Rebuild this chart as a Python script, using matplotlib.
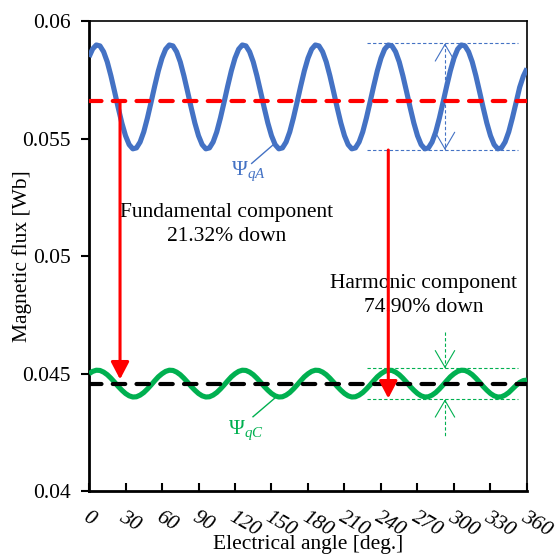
import numpy as np
import matplotlib
matplotlib.use("Agg")
import matplotlib.pyplot as plt

plt.rcParams['font.family'] = ['Liberation Serif', 'DejaVu Serif']
plt.rcParams['mathtext.fontset'] = 'custom'
plt.rcParams['mathtext.rm'] = 'Liberation Serif'
plt.rcParams['mathtext.it'] = 'Liberation Serif:italic'

# ---------------- data ----------------
angle = np.arange(0, 361, 3)  # electrical angle [deg.]

psi_qA = [
    0.05847, 0.05881, 0.05898, 0.05894, 0.05869, 0.05826, 0.05767, 0.05700, 0.05631, 0.05566,
    0.05512, 0.05474, 0.05456, 0.05460, 0.05485, 0.05528, 0.05587, 0.05654, 0.05723, 0.05788,
    0.05842, 0.05880, 0.05898, 0.05894, 0.05869, 0.05826, 0.05767, 0.05700, 0.05631, 0.05566,
    0.05512, 0.05474, 0.05456, 0.05460, 0.05485, 0.05528, 0.05587, 0.05654, 0.05723, 0.05788,
    0.05842, 0.05880, 0.05898, 0.05894, 0.05869, 0.05826, 0.05767, 0.05700, 0.05631, 0.05566,
    0.05512, 0.05474, 0.05456, 0.05460, 0.05485, 0.05528, 0.05587, 0.05654, 0.05723, 0.05788,
    0.05842, 0.05880, 0.05898, 0.05894, 0.05869, 0.05826, 0.05767, 0.05700, 0.05631, 0.05566,
    0.05512, 0.05474, 0.05456, 0.05460, 0.05485, 0.05528, 0.05587, 0.05654, 0.05723, 0.05788,
    0.05842, 0.05880, 0.05898, 0.05894, 0.05869, 0.05826, 0.05767, 0.05700, 0.05631, 0.05566,
    0.05512, 0.05474, 0.05456, 0.05460, 0.05485, 0.05528, 0.05587, 0.05654, 0.05723, 0.05788,
    0.05842, 0.05880, 0.05898, 0.05894, 0.05869, 0.05826, 0.05767, 0.05700, 0.05631, 0.05566,
    0.05512, 0.05474, 0.05456, 0.05460, 0.05485, 0.05528, 0.05587, 0.05652, 0.05718, 0.05765,
    0.05798,
]

psi_qC = [
    0.04499, 0.04509, 0.04514, 0.04513, 0.04506, 0.04495, 0.04480, 0.04463, 0.04445, 0.04429,
    0.04415, 0.04405, 0.04400, 0.04401, 0.04408, 0.04419, 0.04434, 0.04451, 0.04469, 0.04486,
    0.04499, 0.04509, 0.04514, 0.04513, 0.04506, 0.04495, 0.04480, 0.04463, 0.04445, 0.04429,
    0.04415, 0.04405, 0.04400, 0.04401, 0.04408, 0.04419, 0.04434, 0.04451, 0.04469, 0.04486,
    0.04499, 0.04509, 0.04514, 0.04513, 0.04506, 0.04495, 0.04480, 0.04463, 0.04445, 0.04429,
    0.04415, 0.04405, 0.04400, 0.04401, 0.04408, 0.04419, 0.04434, 0.04451, 0.04469, 0.04486,
    0.04499, 0.04509, 0.04514, 0.04513, 0.04506, 0.04495, 0.04480, 0.04463, 0.04445, 0.04429,
    0.04415, 0.04405, 0.04400, 0.04401, 0.04408, 0.04419, 0.04434, 0.04451, 0.04469, 0.04486,
    0.04499, 0.04509, 0.04514, 0.04513, 0.04506, 0.04495, 0.04480, 0.04463, 0.04445, 0.04429,
    0.04415, 0.04405, 0.04400, 0.04401, 0.04408, 0.04419, 0.04434, 0.04451, 0.04469, 0.04486,
    0.04499, 0.04509, 0.04514, 0.04513, 0.04506, 0.04495, 0.04480, 0.04463, 0.04445, 0.04429,
    0.04415, 0.04405, 0.04400, 0.04401, 0.04408, 0.04419, 0.04434, 0.04449, 0.04462, 0.04470,
    0.04472,
]

avg_qA = 0.05661   # fundamental (average) of psi_qA
avg_qC = 0.04454   # fundamental (average) of psi_qC
ripple_qA = [0.05905, 0.05451]   # max / min lines of psi_qA
ripple_qC = [0.04522, 0.04390]   # max / min lines of psi_qC

x_ticks = [0, 30, 60, 90, 120, 150, 180, 210, 240, 270, 300, 330, 360]
x_ticklabels = [str(v) for v in x_ticks]
y_ticks = [0.04, 0.045, 0.05, 0.055, 0.06]
y_ticklabels = ['0.04', '0.045', '0.05', '0.055', '0.06']

BLUE = '#4472C4'
GREEN = '#00B050'
RED = '#FF0000'

FS = 15.5

# ---------------- figure ----------------
fig = plt.figure(figsize=(5.57, 5.54), dpi=100)
ax = fig.add_axes([0.1598, 0.1137, 0.7863, 0.8484])

ax.plot(angle, psi_qA, color=BLUE, lw=3.7, solid_capstyle='butt', zorder=3)
ax.plot(angle, psi_qC, color=GREEN, lw=3.7, solid_capstyle='butt', zorder=3)

ax.axhline(avg_qA, color=RED, lw=3.0, dashes=(3.0, 2.7), dash_capstyle='round', zorder=4)
ax.axhline(avg_qC, color='black', lw=3.0, dashes=(3.0, 2.7), dash_capstyle='round', zorder=4)

# red arrows
ax.annotate('', xy=(25.5, 0.04475), xytext=(25.5, avg_qA),
            arrowprops=dict(arrowstyle='-|>,head_length=1.05,head_width=0.55',
                            color=RED, lw=2.2, shrinkA=0, shrinkB=0, mutation_scale=10),
            zorder=5)
ax.annotate('', xy=(246, 0.04394), xytext=(246, ripple_qA[1]),
            arrowprops=dict(arrowstyle='-|>,head_length=1.05,head_width=0.55',
                            color=RED, lw=2.2, shrinkA=0, shrinkB=0, mutation_scale=10),
            zorder=5)

# ripple guide lines
x0, x1, xm = 228.2, 352.8, 292.6
for yv in ripple_qA:
    ax.plot([x0, x1], [yv, yv], color=BLUE, lw=0.8, dashes=(3, 2), zorder=2)
for yv in ripple_qC:
    ax.plot([x0, x1], [yv, yv], color=GREEN, lw=0.8, dashes=(3, 2), zorder=2)

# blue double arrow (outward heads)
ax.plot([xm, xm], ripple_qA, color=BLUE, lw=0.8, dashes=(3, 2), zorder=2)
hs = '->,head_length=1.2,head_width=0.7'
ax.annotate('', xy=(xm, ripple_qA[0]), xytext=(xm, ripple_qA[0] - 0.0001),
            arrowprops=dict(arrowstyle=hs, color=BLUE, lw=0.8, shrinkA=0, shrinkB=0, mutation_scale=10))
ax.annotate('', xy=(xm, ripple_qA[1]), xytext=(xm, ripple_qA[1] + 0.0001),
            arrowprops=dict(arrowstyle=hs, color=BLUE, lw=0.8, shrinkA=0, shrinkB=0, mutation_scale=10))

# green arrows (inward heads)
ax.plot([xm, xm], [0.04678, ripple_qC[0]], color=GREEN, lw=0.8, dashes=(3, 2), zorder=2)
ax.plot([xm, xm], [ripple_qC[1], 0.04234], color=GREEN, lw=0.8, dashes=(3, 2), zorder=2)
ax.annotate('', xy=(xm, ripple_qC[0]), xytext=(xm, ripple_qC[0] + 0.0001),
            arrowprops=dict(arrowstyle=hs, color=GREEN, lw=0.8, shrinkA=0, shrinkB=0, mutation_scale=10))
ax.annotate('', xy=(xm, ripple_qC[1]), xytext=(xm, ripple_qC[1] - 0.0001),
            arrowprops=dict(arrowstyle=hs, color=GREEN, lw=0.8, shrinkA=0, shrinkB=0, mutation_scale=10))

# curve labels with leader lines
ax.plot([133.7, 152.9], [0.05394, 0.05480], color=BLUE, lw=1.0)
ax.text(131, 0.05360, 'Ψ$_{qA}$', color=BLUE, fontsize=FS, ha='center', va='center')
ax.plot([134.8, 152.9], [0.04316, 0.04396], color=GREEN, lw=1.0)
ax.text(129, 0.04258, 'Ψ$_{qC}$', color=GREEN, fontsize=FS, ha='center', va='center')

# annotations
ax.text(113.4, 0.05134, 'Fundamental component\n21.32% down', fontsize=FS,
        ha='center', va='center', linespacing=1.32)
ax.text(275.3, 0.04832, 'Harmonic component\n74.90% down', fontsize=FS,
        ha='center', va='center', linespacing=1.32)

# axes
ax.set_xlim(0, 360)
ax.set_ylim(0.04, 0.06)
ax.set_xticks(x_ticks)
ax.set_xticklabels(x_ticklabels, rotation=-30, ha='left', va='top',
                   rotation_mode='anchor', fontstyle='italic', fontsize=FS)
ax.set_yticks(y_ticks)
ax.set_yticklabels(y_ticklabels, fontsize=FS)
ax.tick_params(axis='x', direction='in', length=6, width=1.5, pad=12)
ax.tick_params(axis='y', direction='out', length=6, width=1.5, pad=7)

for s in ['left', 'bottom']:
    ax.spines[s].set_linewidth(2.0)
for s in ['top', 'right']:
    ax.spines[s].set_linewidth(1.2)

ax.set_xlabel('Electrical angle [deg.]', fontsize=FS)
ax.xaxis.set_label_coords(0.5, -0.114)
ax.xaxis.label.set_va('center')
ax.set_ylabel('Magnetic flux [Wb]', fontsize=FS)
ax.yaxis.set_label_coords(-0.153, 0.5)
ax.yaxis.label.set_va('center')

fig.savefig('out.png', dpi=100)
